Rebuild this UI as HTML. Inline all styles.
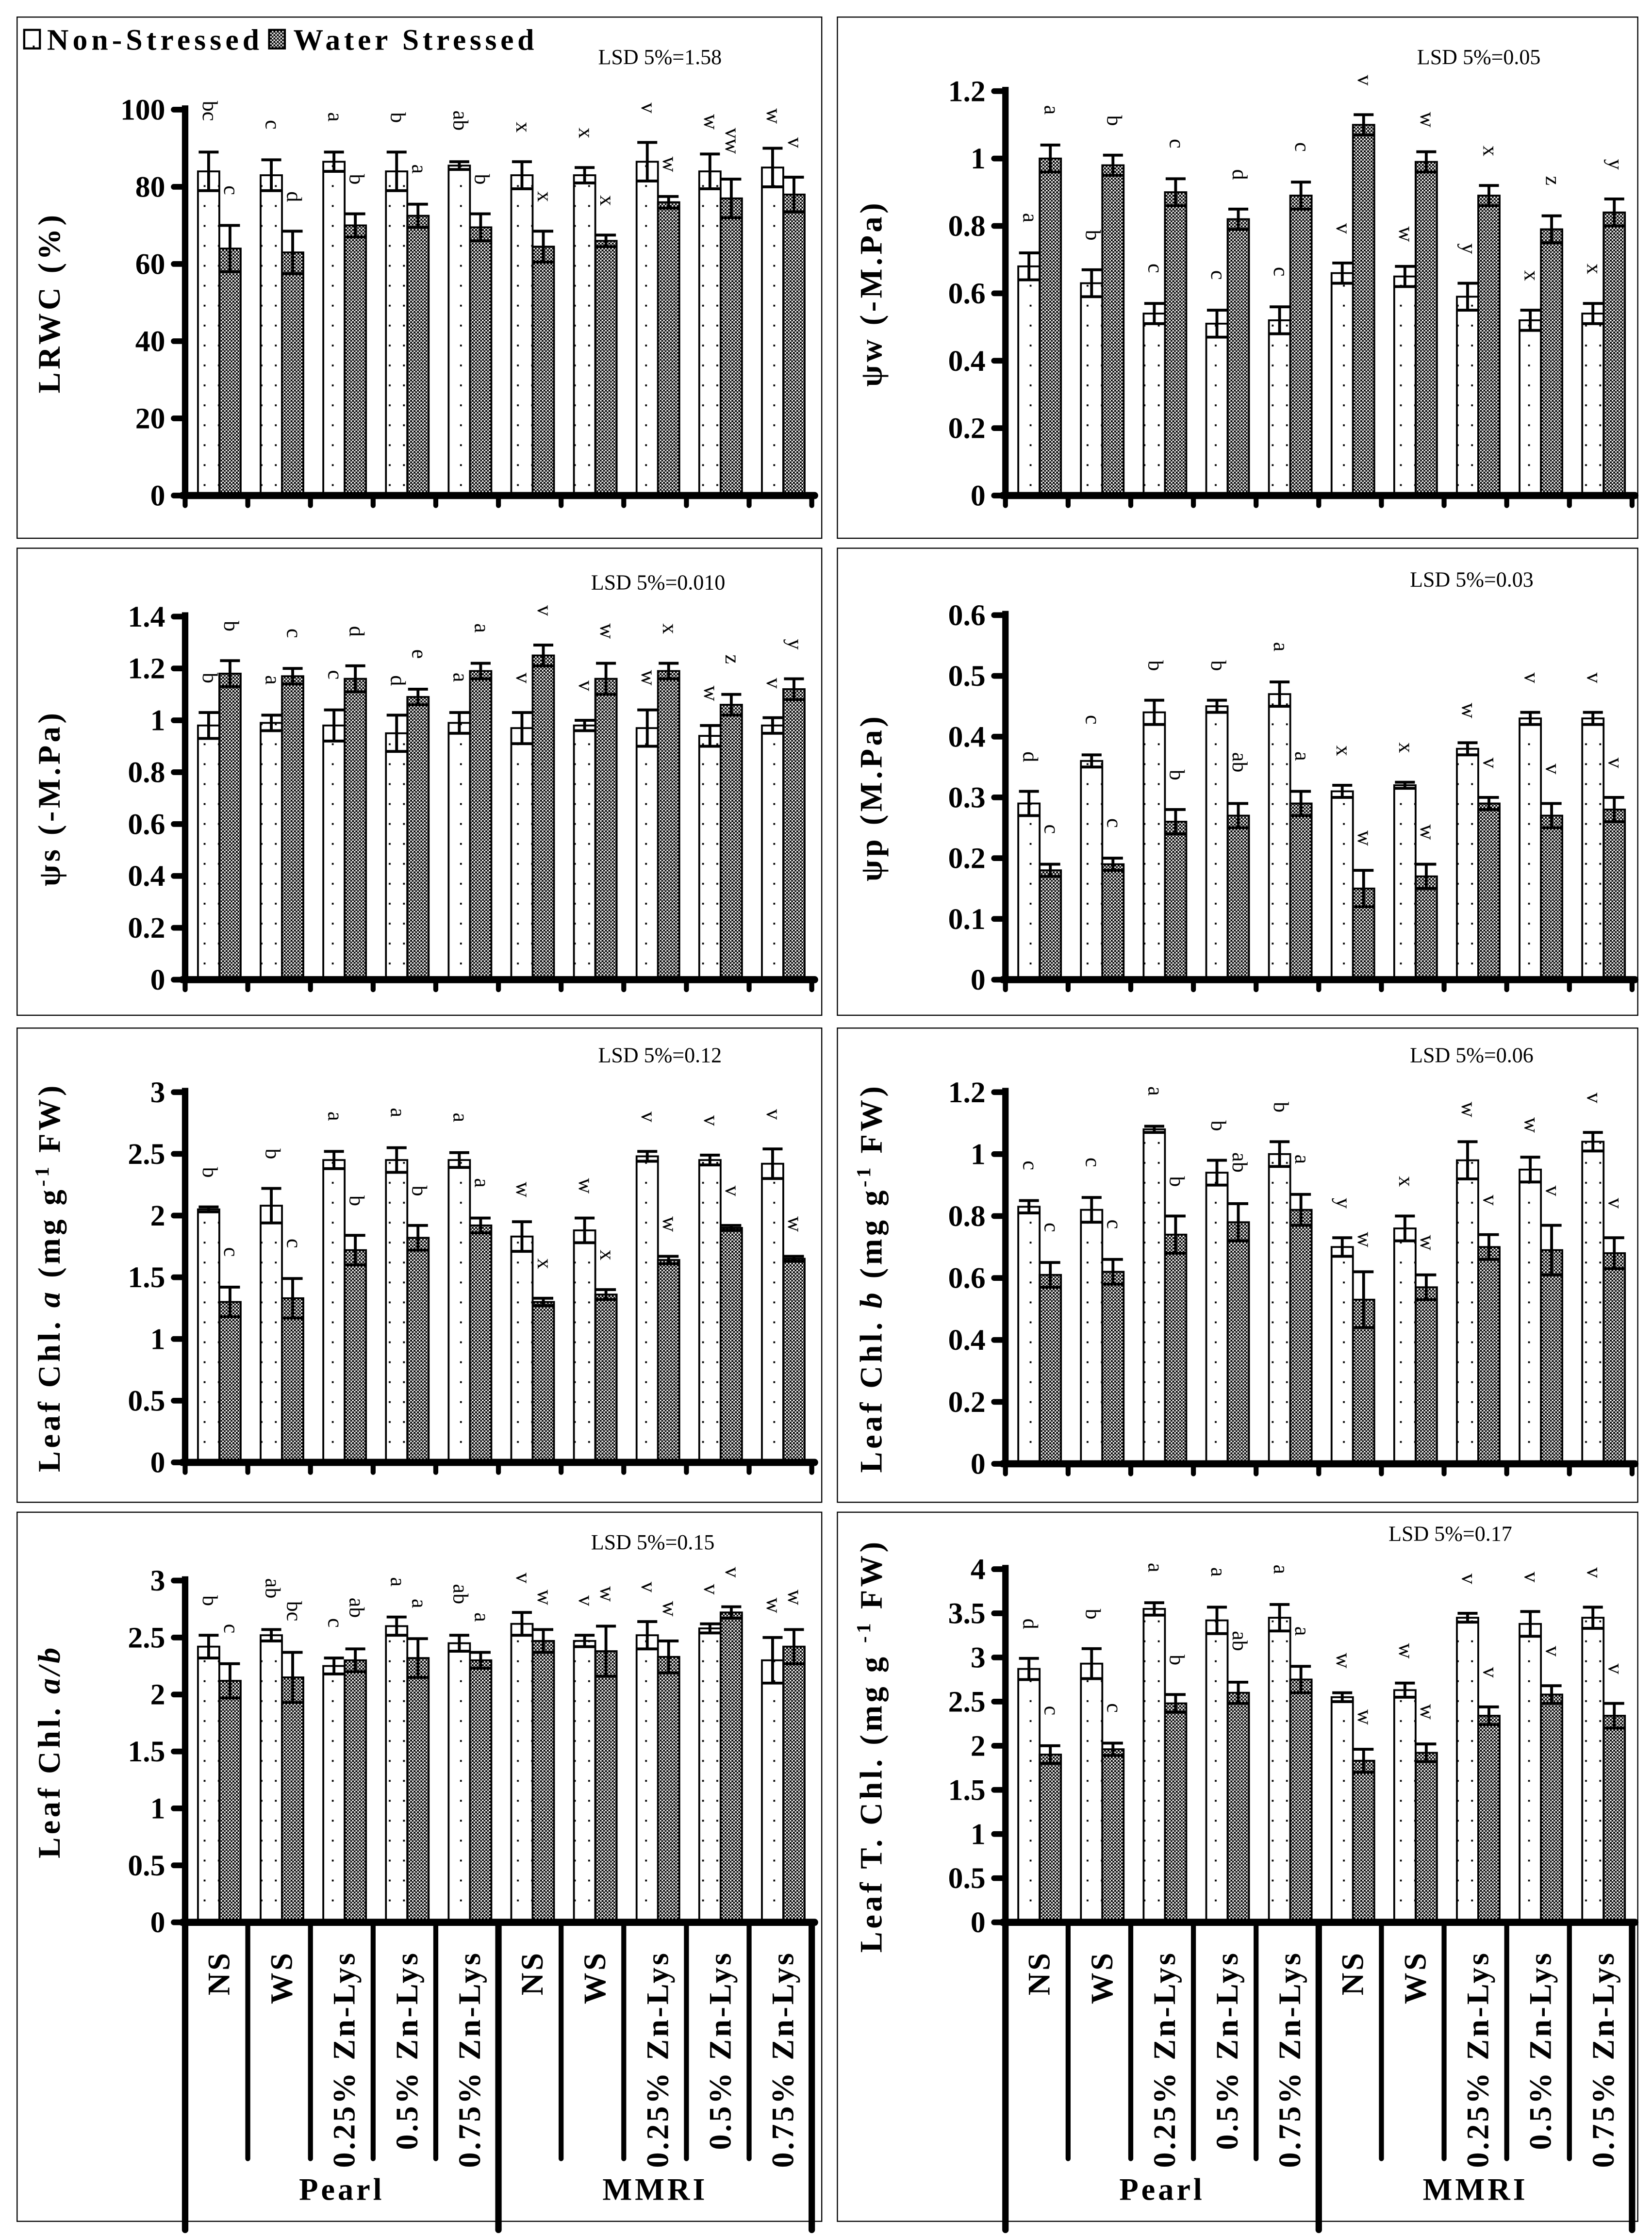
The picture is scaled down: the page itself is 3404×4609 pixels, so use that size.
<!DOCTYPE html>
<html><head><meta charset="utf-8"><title>Water relations and chlorophyll charts</title>
<style>
html,body{margin:0;padding:0;background:#fff;}
svg{display:block;}
text{font-family:"Liberation Serif",serif;fill:#000;}
</style></head>
<body>
<svg id="fig" width="3404" height="4609" viewBox="0 0 1160 1571" preserveAspectRatio="none" xmlns="http://www.w3.org/2000/svg">
<defs>
<pattern id="dots" width="10" height="14" patternUnits="userSpaceOnUse">
<rect width="10" height="14" fill="#fff"/><rect x="3" y="4" width="1.3" height="1.3" fill="#000"/>
</pattern>
<pattern id="check" width="2.4" height="2.4" patternUnits="userSpaceOnUse">
<rect width="2.4" height="2.4" fill="#fff"/><rect width="1.35" height="1.35" fill="#000"/><rect x="1.2" y="1.2" width="1.35" height="1.35" fill="#000"/>
</pattern>
</defs>
<g id="legend">
<rect x="17" y="21" width="11" height="13" fill="url(#dots)" stroke="#000" stroke-width="1.5"/>
<text x="33" y="35" font-size="21" font-weight="bold" textLength="149" lengthAdjust="spacing">Non-Stressed</text>
<rect x="189" y="21" width="11" height="13" fill="url(#check)" stroke="#000" stroke-width="1.5"/>
<text x="206" y="35" font-size="21" font-weight="bold" textLength="169" lengthAdjust="spacing">Water Stressed</text>
</g>
</svg>
<script>
// ---- data ----
const categories = ["NS","WS","0.25% Zn-Lys","0.5% Zn-Lys","0.75% Zn-Lys","NS","WS","0.25% Zn-Lys","0.5% Zn-Lys","0.75% Zn-Lys"];
const cultivars = ["Pearl","MMRI"];

const lrwcNS = [84,83,86.5,84,85.5,83,83,86.5,84,85];
const lrwcNSErr = [5,4,2.5,5,1,3.5,2,5,4.5,5];
const lrwcWS = [64,63,70,72.5,69.5,64.5,66,76,77,78];
const lrwcWSErr = [6,5.5,3,3,3.5,4,1.5,1.5,5,4.5];
const lrwcNSLet = ["bc","c","a","b","ab","x","x","v","w","w"];
const lrwcWSLet = ["c","d","b","a","b","x","x","w","vw","v"];

const psiwNS = [0.68,0.63,0.54,0.51,0.52,0.66,0.65,0.59,0.52,0.54];
const psiwNSErr = [0.04,0.04,0.03,0.04,0.04,0.03,0.03,0.04,0.03,0.03];
const psiwWS = [1.0,0.98,0.90,0.82,0.89,1.10,0.99,0.89,0.79,0.84];
const psiwWSErr = [0.04,0.03,0.04,0.03,0.04,0.03,0.03,0.03,0.04,0.04];
const psiwNSLet = ["a","b","c","c","c","v","w","y","x","x"];
const psiwWSLet = ["a","b","c","d","c","v","w","x","z","y"];

const psisNS = [0.98,0.99,0.98,0.95,0.99,0.97,0.98,0.97,0.94,0.98];
const psisNSErr = [0.05,0.03,0.06,0.07,0.04,0.06,0.02,0.07,0.04,0.03];
const psisWS = [1.18,1.17,1.16,1.09,1.19,1.25,1.16,1.19,1.06,1.12];
const psisWSErr = [0.05,0.03,0.05,0.03,0.03,0.04,0.06,0.03,0.04,0.04];
const psisNSLet = ["b","a","c","d","a","v","v","w","w","v"];
const psisWSLet = ["b","c","d","e","a","v","w","x","z","y"];

const psipNS = [0.29,0.36,0.44,0.45,0.47,0.31,0.32,0.38,0.43,0.43];
const psipNSErr = [0.02,0.01,0.02,0.01,0.02,0.01,0.005,0.01,0.01,0.01];
const psipWS = [0.18,0.19,0.26,0.27,0.29,0.15,0.17,0.29,0.27,0.28];
const psipWSErr = [0.01,0.01,0.02,0.02,0.02,0.03,0.02,0.01,0.02,0.02];
const psipNSLet = ["d","c","b","b","a","x","x","w","v","v"];
const psipWSLet = ["c","c","b","ab","a","w","w","v","v","v"];

const chlaNS = [2.05,2.08,2.45,2.45,2.45,1.83,1.88,2.48,2.45,2.42];
const chlaNSErr = [0.02,0.14,0.07,0.1,0.06,0.12,0.1,0.04,0.04,0.12];
const chlaWS = [1.3,1.33,1.72,1.82,1.92,1.3,1.36,1.64,1.9,1.65];
const chlaWSErr = [0.12,0.16,0.12,0.1,0.06,0.03,0.04,0.03,0.02,0.02];
const chlaNSLet = ["b","b","a","a","a","w","w","v","v","v"];
const chlaWSLet = ["c","c","b","b","a","x","x","w","v","w"];

const chlbNS = [0.83,0.82,1.08,0.94,1.0,0.70,0.76,0.98,0.95,1.04];
const chlbNSErr = [0.02,0.04,0.01,0.04,0.04,0.03,0.04,0.06,0.04,0.03];
const chlbWS = [0.61,0.62,0.74,0.78,0.82,0.53,0.57,0.70,0.69,0.68];
const chlbWSErr = [0.04,0.04,0.06,0.06,0.05,0.09,0.04,0.04,0.08,0.05];
const chlbNSLet = ["c","c","a","b","b","y","x","w","w","v"];
const chlbWSLet = ["c","c","b","ab","a","w","w","v","v","v"];

const abNS = [2.42,2.52,2.25,2.6,2.45,2.62,2.47,2.52,2.58,2.3];
const abNSErr = [0.1,0.05,0.07,0.08,0.07,0.1,0.05,0.12,0.04,0.2];
const abWS = [2.12,2.15,2.3,2.32,2.3,2.47,2.38,2.33,2.72,2.42];
const abWSErr = [0.15,0.22,0.1,0.17,0.07,0.1,0.22,0.14,0.05,0.15];
const abNSLet = ["b","ab","c","a","ab","v","v","v","v","w"];
const abWSLet = ["c","bc","ab","a","a","w","w","w","v","w"];

const tchlNS = [2.87,2.93,3.55,3.42,3.45,2.55,2.63,3.45,3.38,3.45];
const tchlNSErr = [0.12,0.17,0.07,0.15,0.15,0.05,0.08,0.05,0.14,0.12];
const tchlWS = [1.9,1.96,2.48,2.6,2.75,1.83,1.92,2.34,2.58,2.34];
const tchlWSErr = [0.1,0.07,0.1,0.12,0.15,0.13,0.1,0.1,0.1,0.14];
const tchlNSLet = ["d","b","a","a","a","w","w","v","v","v"];
const tchlWSLet = ["c","c","b","ab","a","w","w","v","v","v"];

const lsdLabels = ["LSD 5%=1.58","LSD 5%=0.05","LSD 5%=0.010","LSD 5%=0.03","LSD 5%=0.12","LSD 5%=0.06","LSD 5%=0.15","LSD 5%=0.17"];

// ---- drawing ----
const NS = "http://www.w3.org/2000/svg";
const svg = document.getElementById('fig');
function mk(tag, attrs, parent, txt){
  const e = document.createElementNS(NS, tag);
  for (const k in attrs) e.setAttribute(k, attrs[k]);
  if (txt !== undefined) e.textContent = txt;
  (parent || svg).appendChild(e);
  return e;
}

const panels = [
 {key:"lrwc", box:[12,12,565,366], ax:130, y0:348, topPx:77, max:100, step:20, lsd:[420,45], title:["LRWC (%)"], tx:42,
  ns:lrwcNS,nse:lrwcNSErr,ws:lrwcWS,wse:lrwcWSErr,nl:lrwcNSLet,wl:lrwcWSLet},
 {key:"psiw", box:[588,12,562,366], ax:706, y0:348, topPx:64, max:1.2, step:0.2, lsd:[995,45], title:["ψw (-M.Pa)"], tx:619,
  ns:psiwNS,nse:psiwNSErr,ws:psiwWS,wse:psiwWSErr,nl:psiwNSLet,wl:psiwWSLet},
 {key:"psis", box:[12,385,565,328], ax:130, y0:688, topPx:433, max:1.4, step:0.2, lsd:[415,414], title:["ψs (-M.Pa)"], tx:42,
  ns:psisNS,nse:psisNSErr,ws:psisWS,wse:psisWSErr,nl:psisNSLet,wl:psisWSLet},
 {key:"psip", box:[588,385,562,328], ax:706, y0:688, topPx:432, max:0.6, step:0.1, lsd:[990,412], title:["ψp (M.Pa)"], tx:619,
  ns:psipNS,nse:psipNSErr,ws:psipWS,wse:psipWSErr,nl:psipNSLet,wl:psipWSLet},
 {key:"chla", box:[12,722,565,333], ax:130, y0:1027, topPx:767, max:3, step:0.5, lsd:[420,746], title:"a", tx:42,
  ns:chlaNS,nse:chlaNSErr,ws:chlaWS,wse:chlaWSErr,nl:chlaNSLet,wl:chlaWSLet},
 {key:"chlb", box:[588,722,562,333], ax:706, y0:1028, topPx:767, max:1.2, step:0.2, lsd:[990,746], title:"b", tx:619,
  ns:chlbNS,nse:chlbNSErr,ws:chlbWS,wse:chlbWSErr,nl:chlbNSLet,wl:chlbWSLet},
 {key:"ab", box:[12,1062,565,498], ax:130, y0:1350, topPx:1110, max:3, step:0.5, lsd:[415,1088], title:"ab", tx:42, cats:true,
  ns:abNS,nse:abNSErr,ws:abWS,wse:abWSErr,nl:abNSLet,wl:abWSLet},
 {key:"tchl", box:[588,1062,562,498], ax:706, y0:1350, topPx:1102, max:4, step:0.5, lsd:[975,1082], title:"t", tx:619, cats:true,
  ns:tchlNS,nse:tchlNSErr,ws:tchlWS,wse:tchlWSErr,nl:tchlNSLet,wl:tchlWSLet}
];

panels.forEach((p, pi) => {
  const g = mk('g', {});
  
  
  const b = p.box;
  const frame = mk('rect', {x:b[0], y:b[1], width:b[2], height:b[3], fill:'none', stroke:'#000', 'stroke-width':0.8}, g);
  
  
  const yS = v => p.y0 - (v / p.max) * (p.y0 - p.topPx);
  const gw = 44;
  const xEnd = p.ax + gw * 10;

  const lsd = mk('text', {x:p.lsd[0], y:p.lsd[1], 'font-size':15}, g, lsdLabels[pi]);
  
  

  for (let i = 0; i < 10; i++) {
    const gx = p.ax + gw * i;
    const series = [[p.ns[i], p.nse[i], p.nl[i], 'url(#dots)', gx + 9, 'non-stressed'], [p.ws[i], p.wse[i], p.wl[i], 'url(#check)', gx + 24, 'water-stressed']];
    series.forEach(s => {
      const [v, e, l, fill, x, nm] = s;
      const w = 15;
      const bar = mk('rect', {x:x, y:yS(v), width:w, height:p.y0 - yS(v), fill:fill, stroke:'#000', 'stroke-width':1.3}, g);
      
      
      const cx = x + w / 2;
      const eg = mk('g', {stroke:'#000', 'stroke-width':2}, g);
      
      
      mk('line', {x1:cx, x2:cx, y1:yS(v - e), y2:yS(v + e)}, eg);
      mk('line', {x1:cx - 7, x2:cx + 7, y1:yS(v - e), y2:yS(v - e)}, eg);
      mk('line', {x1:cx - 7, x2:cx + 7, y1:yS(v + e), y2:yS(v + e)}, eg);
      const ly = yS(v + e) - 20 - l.length * 8;
      const lt = mk('text', {x:cx - 4, y:ly, 'font-size':15, transform:'rotate(90 ' + (cx - 4) + ' ' + ly + ')'}, g, l);
      
      
    });
  }

  const yax = mk('g', {}, g);
  
  
  mk('line', {x1:p.ax, x2:p.ax, y1:p.topPx - 3, y2:p.y0, stroke:'#000', 'stroke-width':4.5}, yax);
  const nT = Math.round(p.max / p.step);
  for (let k = 0; k <= nT; k++) {
    const v = k * p.step;
    const y = yS(v);
    mk('line', {x1:p.ax - 8, x2:p.ax, y1:y, y2:y, stroke:'#000', 'stroke-width':4, 'stroke-linecap':'round'}, yax);
    const t = mk('text', {x:p.ax - 14, y:y + 7, 'font-size':21, 'font-weight':'bold', 'text-anchor':'end'}, yax, String(Number(v.toFixed(2))));
    
    
  }
  const xax = mk('g', {}, g);
  
  
  mk('line', {x1:p.ax - 2, x2:xEnd + 2, y1:p.y0, y2:p.y0, stroke:'#000', 'stroke-width':5, 'stroke-linecap':'round'}, xax);
  for (let i = 0; i <= 10; i++) {
    const x = p.ax + gw * i;
    if (p.cats) {
      const long = (i % 5 === 0);
      mk('line', {x1:x, x2:x, y1:p.y0, y2:long ? 1566 : 1516, stroke:'#000', 'stroke-width':long ? 4.5 : 3.5, 'stroke-linecap':'round'}, xax);
    } else {
      mk('line', {x1:x, x2:x, y1:p.y0, y2:p.y0 + 7, stroke:'#000', 'stroke-width':3.5, 'stroke-linecap':'round'}, xax);
    }
  }
  if (p.cats) {
    categories.forEach((c, i) => {
      const x = p.ax + gw * i + 31;
      const t = mk('text', {x:x, y:1370, 'font-size':22, 'font-weight':'bold', 'letter-spacing':1.6, 'text-anchor':'end', transform:'rotate(-90 ' + x + ' 1370)'}, xax, c);
      
      
    });
    cultivars.forEach((c, j) => {
      const t = mk('text', {x:p.ax + gw * (2.5 + 5 * j), y:1545, 'font-size':22, 'font-weight':'bold', 'letter-spacing':2, 'text-anchor':'middle'}, xax, c);
      
      
    });
  }
  const cy = (p.topPx + p.y0) / 2;
  const tt = mk('text', {x:p.tx, y:cy, 'font-size':22, 'font-weight':'bold', 'letter-spacing':2.2, 'text-anchor':'middle', transform:'rotate(-90 ' + p.tx + ' ' + cy + ')'}, g);
  
  
  if (Array.isArray(p.title)) { tt.textContent = p.title[0]; }
  else if (p.title === 'a' || p.title === 'b') {
    mk('tspan', {}, tt, 'Leaf Chl.  ');
    mk('tspan', {'font-style':'italic'}, tt, p.title);
    mk('tspan', {}, tt, '  (mg g');
    mk('tspan', {'font-size':14, dy:-8}, tt, '-1');
    mk('tspan', {dy:8}, tt, ' FW)');
  } else if (p.title === 'ab') {
    mk('tspan', {}, tt, 'Leaf Chl.  ');
    mk('tspan', {'font-style':'italic'}, tt, 'a/b');
  } else {
    mk('tspan', {}, tt, 'Leaf T. Chl. (mg g ');
    mk('tspan', {'font-size':14, dy:-8}, tt, '-1');
    mk('tspan', {dy:8}, tt, ' FW)');
  }
});
</script>
</body></html>
